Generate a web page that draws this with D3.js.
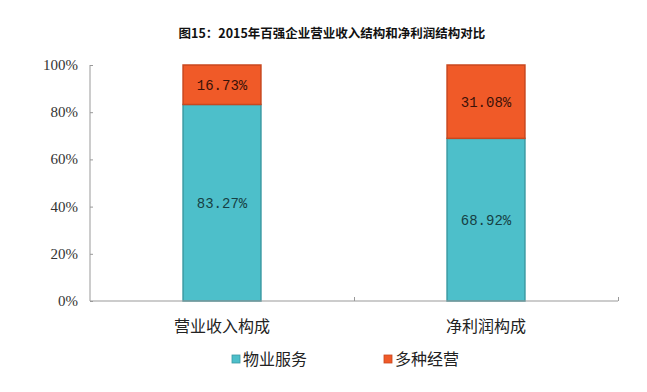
<!DOCTYPE html>
<html>
<head>
<meta charset="utf-8">
<script src="https://cdn.jsdelivr.net/npm/d3@7"></script>
<style>
  body { margin: 0; background: #fff; }
  svg { display: block; }
</style>
</head>
<body>
<div id="chart"></div>
<script>
// data
var categories = ["营业收入构成", "净利润构成"];
var seriesNames = ["物业服务", "多种经营"];
var wuyeValues = [83.27, 68.92];
var duozhongValues = [16.73, 31.08];
var yTicks = [0, 20, 40, 60, 80, 100];

var colors = ["#4dbfca", "#f05a28"];
var strokes = ["#3a9aa3", "#c9471e"];

var svgWidth = 647, svgHeight = 392;
var margin = { top: 65, right: 29, bottom: 91, left: 90 };
var chartWidth = svgWidth - margin.left - margin.right;
var chartHeight = svgHeight - margin.top - margin.bottom;

var svg = d3.select("#chart").append("svg")
  .attr("width", svgWidth)
  .attr("height", svgHeight);

// title
svg.append("text")
  .attr("x", 332).attr("y", 38)
  .attr("text-anchor", "middle")
  .attr("font-family", "'Noto Sans CJK SC', sans-serif")
  .attr("font-weight", "bold")
  .attr("font-size", "12.5px")
  .attr("fill", "#111")
  .text("图15：2015年百强企业营业收入结构和净利润结构对比");

var g = svg.append("g")
  .attr("transform", `translate(${margin.left}, ${margin.top})`);

var x = d3.scaleBand()
  .domain(categories)
  .range([0, chartWidth])
  .paddingInner(0.705)
  .paddingOuter(0.3525);

var xEdge = d3.scaleLinear().domain([0, categories.length]).range([0, chartWidth]);

var y = d3.scaleLinear().domain([0, 100]).range([chartHeight, 0]);

// stack
var rows = categories.map(function(c, i) {
  return { cat: c, a: wuyeValues[i], b: duozhongValues[i] };
});
var stack = d3.stack().keys(["a", "b"]);
var layers = stack(rows);

layers.forEach(function(layer, li) {
  g.selectAll(".bar" + li)
    .data(layer)
    .enter()
    .append("rect")
    .attr("x", d => x(d.data.cat))
    .attr("y", d => y(d[1]))
    .attr("width", x.bandwidth())
    .attr("height", d => y(d[0]) - y(d[1]))
    .attr("fill", colors[li])
    .attr("stroke", strokes[li])
    .attr("stroke-width", 1.5);

  g.selectAll(".lab" + li)
    .data(layer)
    .enter()
    .append("text")
    .attr("x", d => x(d.data.cat) + x.bandwidth() / 2)
    .attr("y", d => (y(d[0]) + y(d[1])) / 2 + 5)
    .attr("text-anchor", "middle")
    .attr("font-family", "'Liberation Mono', 'DejaVu Sans Mono', monospace")
    .attr("font-size", "14px")
    .attr("fill", li == 0 ? "#173f44" : "#3a1208")
    .text(d => (d[1] - d[0]).toFixed(2) + "%");
});

// y axis
var yAxis = d3.axisRight(y)
  .tickValues(yTicks)
  .tickSize(3)
  .tickFormat("");
var yg = g.append("g").call(yAxis);
yg.select(".domain").attr("stroke", "#999").attr("d", `M0,0V${chartHeight}`);
yg.selectAll(".tick line").attr("stroke", "#999");

g.selectAll(".ylab")
  .data(yTicks)
  .enter()
  .append("text")
  .attr("x", -12)
  .attr("y", d => y(d) + 5)
  .attr("text-anchor", "end")
  .attr("font-family", "'Liberation Serif', 'DejaVu Serif', serif")
  .attr("font-size", "15px")
  .attr("fill", "#333")
  .text(d => d + "%");

// x axis
var xAxis = d3.axisBottom(xEdge)
  .tickValues([1, 2])
  .tickSize(-4)
  .tickFormat("");
var xg = g.append("g")
  .attr("transform", `translate(0, ${chartHeight})`)
  .call(xAxis);
xg.select(".domain").attr("stroke", "#999").attr("d", `M0,0H${chartWidth}`);
xg.selectAll(".tick line").attr("stroke", "#999");

g.selectAll(".xlab")
  .data(categories)
  .enter()
  .append("text")
  .attr("x", d => x(d) + x.bandwidth() / 2)
  .attr("y", chartHeight + 31)
  .attr("text-anchor", "middle")
  .attr("font-family", "'Noto Sans CJK SC', sans-serif")
  .attr("font-size", "16px")
  .attr("fill", "#222")
  .text(d => d);

// legend
var legendX = [232, 384];
var legend = svg.selectAll(".legend")
  .data(seriesNames)
  .enter()
  .append("g")
  .attr("transform", (d, i) => `translate(${legendX[i]}, 359)`);

legend.append("rect")
  .attr("x", 0).attr("y", -4)
  .attr("width", 8).attr("height", 8)
  .attr("fill", (d, i) => colors[i])
  .attr("stroke", (d, i) => strokes[i])
  .attr("stroke-width", 0.8);

legend.append("text")
  .attr("x", 11).attr("y", 6)
  .attr("font-family", "'Noto Sans CJK SC', sans-serif")
  .attr("font-size", "16px")
  .attr("fill", "#222")
  .text(d => d);
</script>
</body>
</html>
